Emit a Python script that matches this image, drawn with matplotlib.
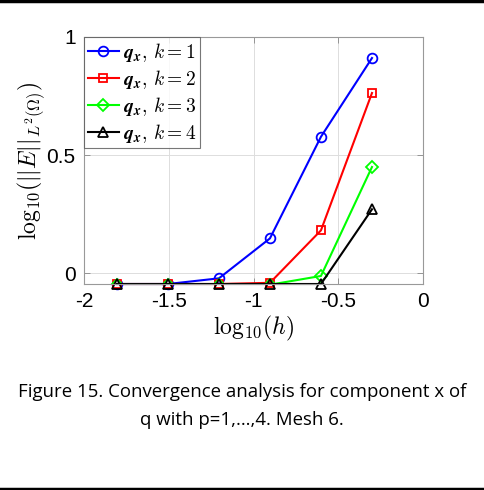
import matplotlib
matplotlib.use("Agg")
import matplotlib.pyplot as plt
from matplotlib.lines import Line2D

log_h = [-1.806, -1.505, -1.204, -0.903, -0.602, -0.301]
err_k1 = [-0.045, -0.045, -0.021, 0.148, 0.578, 0.911]
err_k2 = [-0.045, -0.045, -0.045, -0.040, 0.182, 0.763]
err_k3 = [-0.048, -0.048, -0.048, -0.048, -0.011, 0.450]
err_k4 = [-0.045, -0.045, -0.045, -0.045, -0.045, 0.271]
labels = [r'$\mathbfit{q}_{\mathbfit{x}},\,k=1$', r'$\mathbfit{q}_{\mathbfit{x}},\,k=2$',
          r'$\mathbfit{q}_{\mathbfit{x}},\,k=3$', r'$\mathbfit{q}_{\mathbfit{x}},\,k=4$']
xticks = [-2, -1.5, -1, -0.5, 0]
yticks = [0, 0.5, 1]
caption = "Figure 15. Convergence analysis for component x of\nq with p=1,\u2026,4. Mesh 6."

plt.rcParams['mathtext.fontset'] = 'cm'
plt.rcParams['font.family'] = 'Liberation Sans'

fig = plt.figure(figsize=(4.84, 4.90), dpi=100)
W, H = 484, 490
ax = fig.add_axes([84 / W, 1 - 284 / H, (423 - 84) / W, (284 - 37) / H])

series = [err_k1, err_k2, err_k3, err_k4]
colors = ['#0000ff', '#ff0000', '#00ff00', '#000000']
markers = ['o', 's', 'D', '^']
msizes = [7, 6, 6, 7]
for s, c, m, ms, lab in zip(series, colors, markers, msizes, labels):
    ax.plot(log_h, s, color=c, marker=m, markersize=ms, markerfacecolor='none',
            markeredgecolor=c, markeredgewidth=1.3, linewidth=1.5, label=lab,
            clip_on=(c == '#00ff00'))

ax.set_xlim(-2, 0)
ax.set_ylim(-0.045, 1)
ax.set_xticks(xticks)
ax.set_xticklabels(['-2', '-1.5', '-1', '-0.5', '0'])
ax.set_yticks(yticks)
ax.set_yticklabels(['0', '0.5', '1'])
ax.tick_params(direction='in', length=4, width=0.6, color='#888888', labelsize=15,
               top=True, right=True, pad=6)
ax.grid(True, color='#dddddd', linewidth=0.7)
for sp in ax.spines.values():
    sp.set_color('#999999')
    sp.set_linewidth(0.8)

ax.set_xlabel(r'$\mathrm{log}_{10}(h)$', fontsize=17, labelpad=2)
ax.set_ylabel(r'$\mathrm{log}_{10}(||E||_{L^2(\Omega)})$', fontsize=17, labelpad=0)

leg = ax.legend(loc='upper left', fontsize=14, frameon=True, fancybox=False,
                borderaxespad=0, handlelength=1.6, handletextpad=0.2,
                borderpad=0.2, labelspacing=0.2)
leg.get_frame().set_edgecolor('#555555')
leg.get_frame().set_linewidth(0.8)

fig.text(0.5, 1 - 406 / H, caption, ha='center', va='center', fontsize=13.4,
         family='Open Sans', linespacing=1.75)

fig.add_artist(Line2D([0, 1], [1 - 1.5 / H, 1 - 1.5 / H], color='black', linewidth=2.5,
                      transform=fig.transFigure))
fig.add_artist(Line2D([0, 1], [1 - 488.5 / H, 1 - 488.5 / H], color='black', linewidth=2.5,
                      transform=fig.transFigure))

fig.savefig('out.png', dpi=100)
